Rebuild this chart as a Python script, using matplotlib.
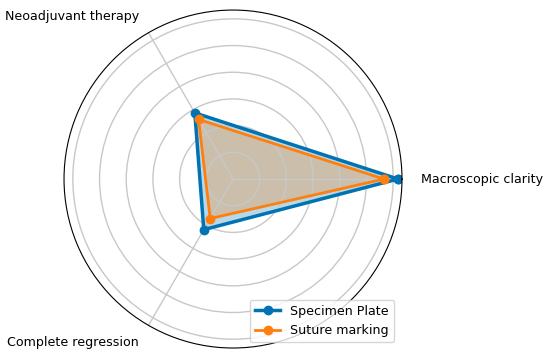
import numpy as np
import matplotlib
matplotlib.use("Agg")
import matplotlib.pyplot as plt

categories = ["Macroscopic clarity", "Neoadjuvant therapy", "Complete regression"]
specimen_plate = [6.18, 2.86, 2.19]
suture_marking = [5.66, 2.58, 1.71]
series_names = ["Specimen Plate", "Suture marking"]

angles = np.linspace(0, 2 * np.pi, len(categories), endpoint=False)
angles_closed = np.concatenate([angles, angles[:1]])

fig = plt.figure(figsize=(5.5, 3.55), dpi=100)
ax = fig.add_axes([0.1164, 0.0197, 0.6145, 0.952], projection="polar")

colors = ["#0173b2", "#ff7f0e"]
for vals, name, col, lw in zip([specimen_plate, suture_marking], series_names, colors, [2.5, 2.0]):
    v = np.concatenate([vals, vals[:1]])
    ax.plot(angles_closed, v, color=col, lw=lw, marker="o", markersize=6, label=name)
    ax.fill(angles_closed, v, color=col, alpha=0.28)

rmax = 6.33
ax.set_ylim(0, rmax)
ax.set_yticks([1, 2, 3, 4, 5, 6])
ax.set_yticklabels([])
ax.set_xticks(angles)
ax.set_xticklabels([])
ax.grid(True, color="#c8c8c8", lw=1)

# category labels just outside the outer ring
label_r = 7.05
halign = ["left", "right", "right"]
for ang, lab, ha in zip(angles, categories, halign):
    ax.text(ang, label_r, lab, ha=ha, va="center", fontsize=9.1, clip_on=False)

fig.legend(loc="lower right", bbox_to_anchor=(0.728, 0.018), fontsize=9.1)

fig.savefig("out.png", dpi=100)
